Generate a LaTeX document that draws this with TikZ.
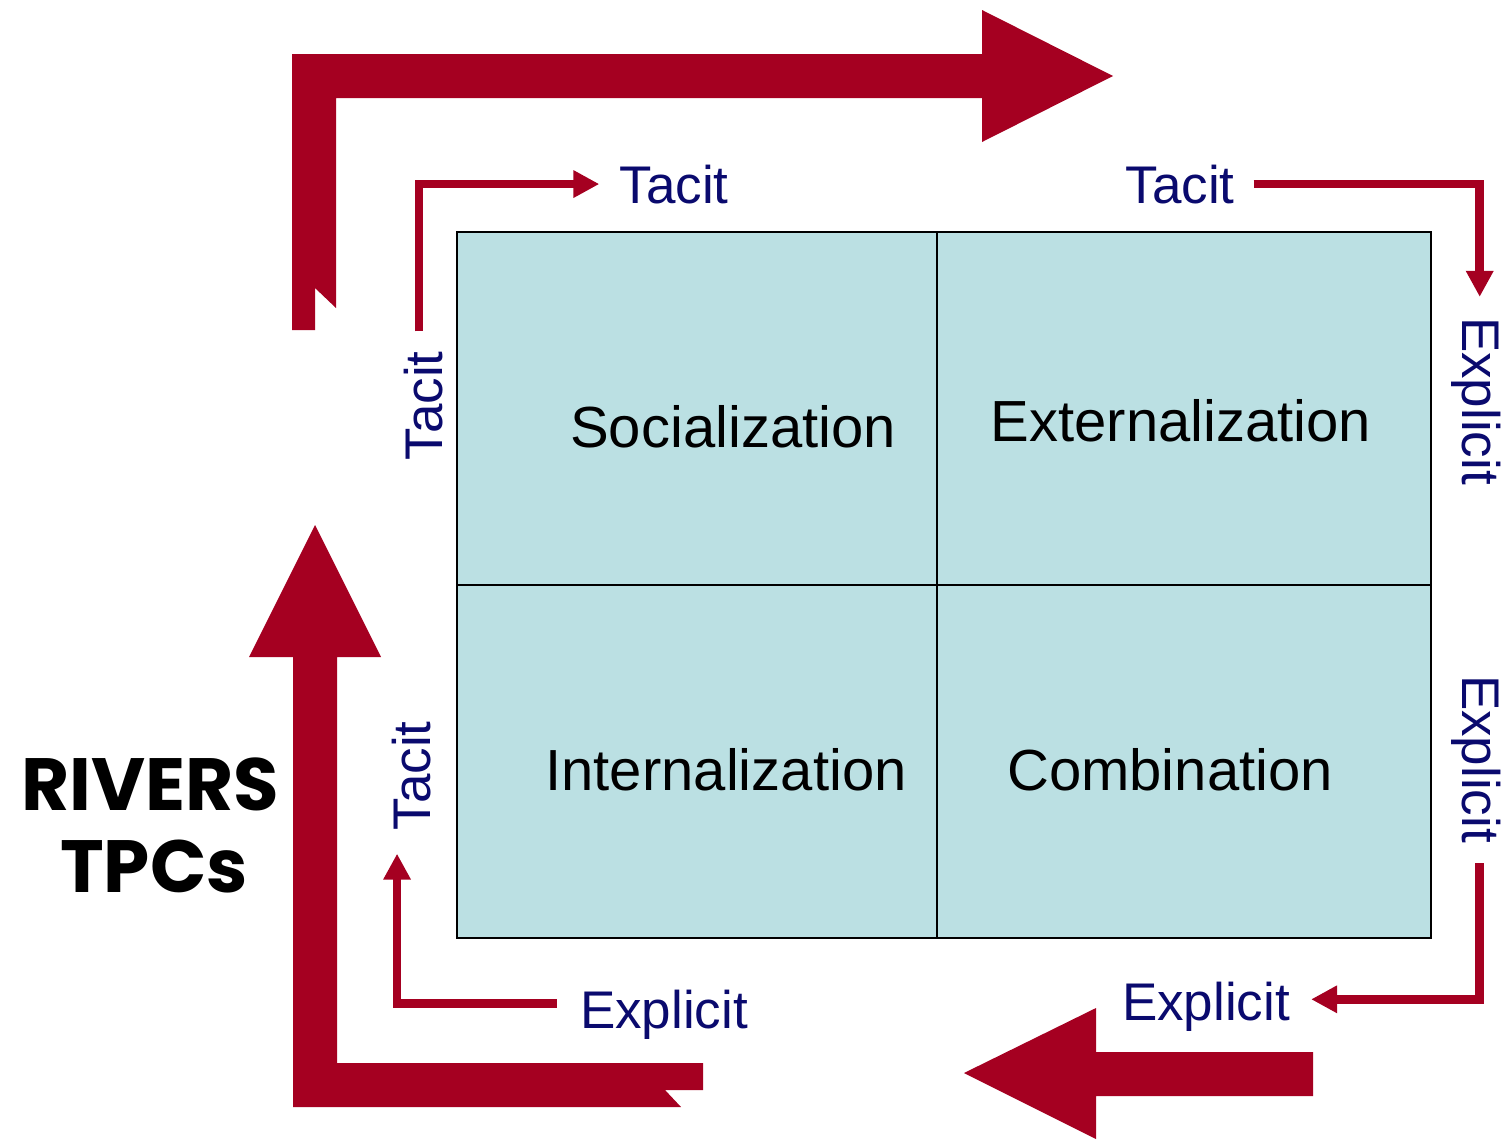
\documentclass[tikz,border=0pt]{standalone}
\usepackage{fontspec}
\setmainfont{Liberation Sans}
\newfontfamily\teamfont{Poppins}
\usetikzlibrary{arrows.meta}
\definecolor{darkred}{HTML}{A50021}
\definecolor{navy}{HTML}{0A0A6E}
\definecolor{cellblue}{HTML}{BBE0E3}
\begin{document}
\begin{tikzpicture}[x=1pt,y=-1pt,
    cell/.style={draw,line width=2pt,fill=cellblue,inner sep=0pt,minimum height=353pt},
    mode/.style={font=\fontsize{58}{70}\selectfont,inner sep=0pt,anchor=base},
    kind/.style={text=navy,font=\fontsize{53}{63}\selectfont,inner sep=0pt,anchor=base},
    team/.style={font=\teamfont\bfseries\fontsize{74}{88}\selectfont,inner sep=0pt,anchor=base},
    flow/.style={darkred,line width=8.5pt,-{Triangle[length=26pt,width=26pt]}},
    bigarrow/.style={fill=darkred}]
  \useasboundingbox (0,0) rectangle (1510,1143);

  % the four modes
  \node [cell,minimum width=480pt] (soc) at (697,408.5)  {};
  \node [cell,minimum width=494pt] (ext) at (1184,408.5) {};
  \node [cell,minimum width=480pt] (int) at (697,761.5)  {};
  \node [cell,minimum width=494pt] (com) at (1184,761.5) {};
  \node [mode] (socl) at (733,447)  {Socialization};
  \node [mode] (extl) at (1181,441) {Externalization};
  \node [mode] (intl) at (726,790)  {Internalization};
  \node [mode] (coml) at (1170,790) {Combination};

  % tacit / explicit labels
  \node [kind]           (tacitT1) at (674,203)  {Tacit};
  \node [kind]           (tacitT2) at (1180,203) {Tacit};
  \node [kind,rotate=90] (tacitL1) at (442,406)  {Tacit};
  \node [kind,rotate=90] (tacitL2) at (430,776)  {Tacit};
  \node [kind,rotate=-90] (explR1) at (1462,401) {Explicit};
  \node [kind,rotate=-90] (explR2) at (1462,759) {Explicit};
  \node [kind]            (explB1) at (664,1028)  {Explicit};
  \node [kind]            (explB2) at (1206,1020) {Explicit};

  \draw [flow,shorten <=20pt,shorten >=20pt] ([xshift=-4pt]tacitL1.east) |- (tacitT1.west);
  \draw [flow,shorten <=19pt,shorten >=20pt] (tacitT2.east) -| ([xshift=4pt]explR1.west);
  \draw [flow,shorten <=20pt,shorten >=21pt] ([xshift=4pt]explR2.east) |- ([yshift=7pt]explB2.east);
  \draw [flow,shorten <=23pt,shorten >=23pt] ([yshift=11pt]explB1.west) -| ([xshift=-14pt]tacitL2.west);

  % the big spiral arrows
  \fill [bigarrow] (292,330) -- (315,330) -- (315,288) -- (336,308) -- (336,98)
    -- (982,98) -- (982,142) -- (1113,76) -- (982,10) -- (982,54) -- (292,54) -- cycle;
  \fill [bigarrow] (1313,1052) -- (1096,1052) -- (1096,1008) -- (964,1073)
    -- (1096,1139) -- (1096,1096) -- (1313,1096) -- cycle;
  \fill [bigarrow] (681,1107) -- (293,1107) -- (293,657) -- (249,657) -- (315,525)
    -- (381,657) -- (337,657) -- (337,1063) -- (703,1063) -- (703,1090) -- (665,1090) -- cycle;

  \node [team] (rivers) at (150,810) {RIVERS};
  \node [team] (tpcs)   at (154,892) {TPCs};
\end{tikzpicture}
\end{document}
